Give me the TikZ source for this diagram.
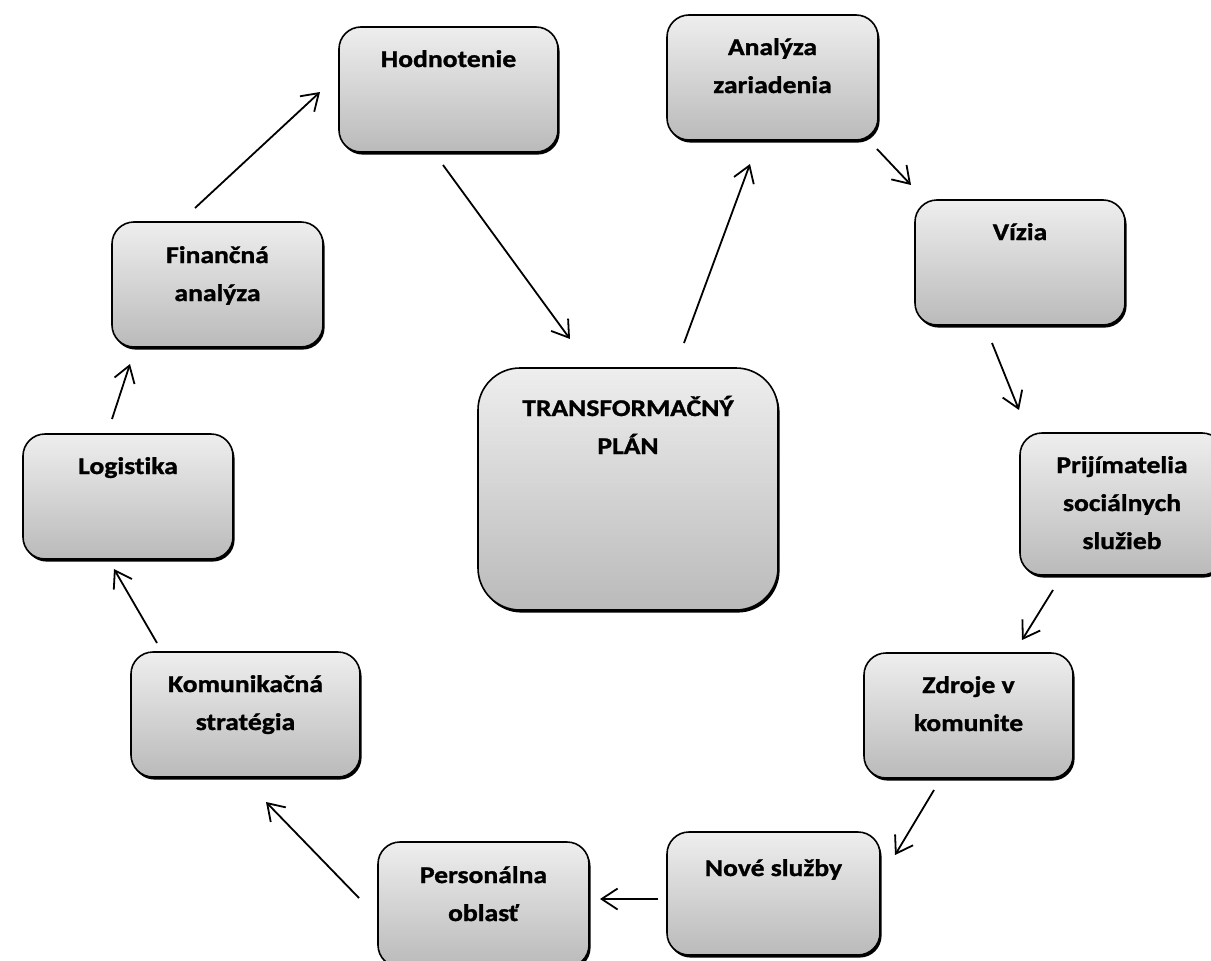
\documentclass[tikz,border=0pt]{standalone}
\usepackage{fontspec}
\setmainfont{Carlito}[FakeStretch=1.15, Ligatures=NoCommon, BoldFeatures={FakeBold=1.2}]
\usetikzlibrary{arrows.meta,shadows}
\definecolor{boxtop}{RGB}{238,238,238}
\definecolor{boxbot}{RGB}{186,186,186}
\begin{document}
\begin{tikzpicture}[x=1pt,y=-1pt,
  box/.style={draw=black, line width=1.6pt, rounded corners=22pt,
    top color=boxtop, bottom color=boxbot, inner sep=0pt,
    drop shadow={fill=black, opacity=1, shadow xshift=1.6pt, shadow yshift=-2.6pt}},
  bigbox/.style={box, rounded corners=42pt},
  lbl/.style={anchor=base, inner sep=0pt, font=\fontsize{24}{38}\selectfont\bfseries},
  arr/.style={line width=1.8pt, -{Straight Barb[length=16pt,width=21pt,line width=1.8pt]}}]
\useasboundingbox (0,0) rectangle (1211,961);

% boxes
\node[box, minimum width=219pt, minimum height=125pt] (hod) at (448.5,89.5) {};
\node[box, minimum width=211pt, minimum height=125pt] (ana) at (772.5,77.5) {};
\node[box, minimum width=210pt, minimum height=125pt] (viz) at (1020,262.5) {};
\node[box, minimum width=204pt, minimum height=142pt] (pri) at (1122,504) {};
\node[box, minimum width=209pt, minimum height=125pt] (zdr) at (968.5,715.5) {};
\node[box, minimum width=213pt, minimum height=123pt] (nov) at (773.5,893.5) {};
\node[box, minimum width=211pt, minimum height=125pt] (per) at (483.5,904.5) {};
\node[box, minimum width=229pt, minimum height=125pt] (kom) at (245.5,714.5) {};
\node[box, minimum width=210pt, minimum height=125pt] (log) at (128,496.5) {};
\node[box, minimum width=211pt, minimum height=125pt] (fin) at (217.5,284.5) {};
\node[bigbox, minimum width=300pt, minimum height=242pt] (ctr) at (628,489) {};

% labels (baseline of the first line)
\node[lbl] (hodt) at (448.5,67) {\parbox[t]{200pt}{\centering Hodnotenie}};
\node[lbl] (anat) at (772.5,55) {\parbox[t]{200pt}{\centering Analýza\\zariadenia}};
\node[lbl] (vizt) at (1020,240) {\parbox[t]{200pt}{\centering Vízia}};
\node[lbl] (prit) at (1122,473) {\parbox[t]{200pt}{\centering Prijímatelia\\sociálnych\\služieb}};
\node[lbl] (zdrt) at (968.5,693) {\parbox[t]{200pt}{\centering Zdroje v\\komunite}};
\node[lbl] (novt) at (773.5,876) {\parbox[t]{200pt}{\centering Nové služby}};
\node[lbl] (pert) at (483.5,883) {\parbox[t]{200pt}{\centering Personálna\\oblasť}};
\node[lbl] (komt) at (245.5,692) {\parbox[t]{220pt}{\centering Komunikačná\\stratégia}};
\node[lbl] (logt) at (128,474) {\parbox[t]{200pt}{\centering Logistika}};
\node[lbl] (fint) at (217.5,263) {\parbox[t]{200pt}{\centering Finančná\\analýza}};
\node[lbl] (ctrt) at (628,416) {\parbox[t]{280pt}{\centering TRANSFORMAČNÝ\\PLÁN}};

% arrow end points in the gaps between the boxes
\coordinate (a1s) at (195,208);  \coordinate (a1e) at (320,92);
\coordinate (a2s) at (443,165);  \coordinate (a2e) at (570,339);
\coordinate (a3s) at (684,343);  \coordinate (a3e) at (750,164);
\coordinate (a4s) at (877,149);  \coordinate (a4e) at (911,185);
\coordinate (a5s) at (992,343);  \coordinate (a5e) at (1019,410);
\coordinate (a6s) at (1053,590); \coordinate (a6e) at (1022,640);
\coordinate (a7s) at (934,790);  \coordinate (a7e) at (895,855);
\coordinate (a8s) at (658,899);  \coordinate (a8e) at (600,899);
\coordinate (a9s) at (359,898);  \coordinate (a9e) at (266,802);
\coordinate (a10s) at (157,643); \coordinate (a10e) at (114,569);
\coordinate (a11s) at (112,419); \coordinate (a11e) at (130,364);

\draw[arr] (a1s) -- (a1e);
\draw[arr] (a2s) -- (a2e);
\draw[arr] (a3s) -- (a3e);
\draw[arr] (a4s) -- (a4e);
\draw[arr] (a5s) -- (a5e);
\draw[arr] (a6s) -- (a6e);
\draw[arr] (a7s) -- (a7e);
\draw[arr] (a8s) -- (a8e);
\draw[arr] (a9s) -- (a9e);
\draw[arr] (a10s) -- (a10e);
\draw[arr] (a11s) -- (a11e);
\end{tikzpicture}
\end{document}
